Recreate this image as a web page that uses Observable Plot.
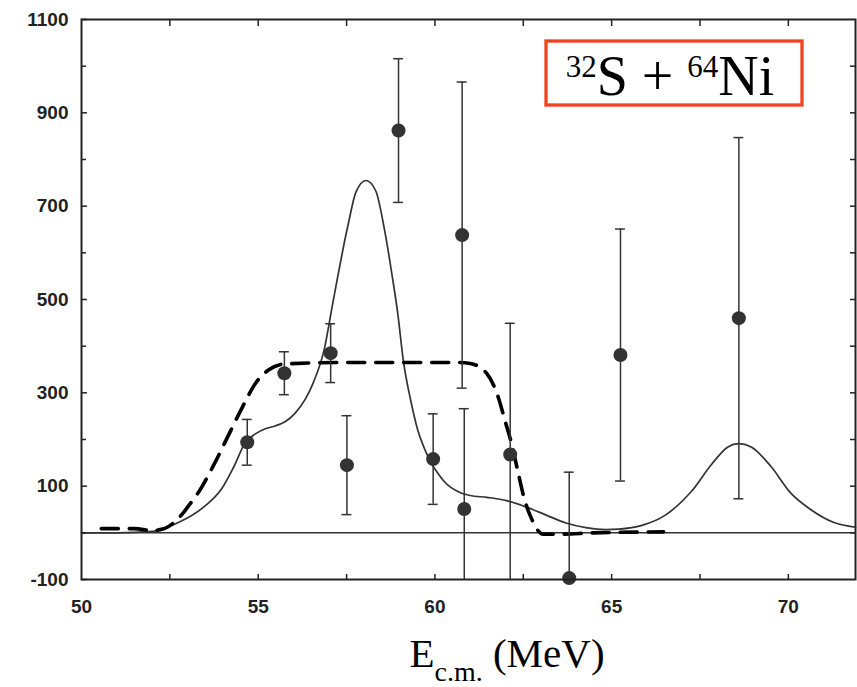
<!DOCTYPE html>
<html><head><meta charset="utf-8">
<script src="https://cdn.jsdelivr.net/npm/d3@7"></script>
<script src="https://cdn.jsdelivr.net/npm/@observablehq/plot@0.6"></script>
<style>
body{margin:0;background:#fff;}
#chart{position:relative;width:857px;height:687px;}
</style></head><body><div id="chart"></div>
<script>
// measured points (E c.m. in MeV, value, symmetric error)
const ptX   = [54.69, 55.74, 57.05, 57.51, 58.97, 59.95, 60.77, 60.83, 62.13, 63.80, 65.25, 68.60];
const ptY   = [194, 342, 385, 145, 862, 158, 638, 51, 168, -97, 381, 460];
const ptErr = [49, 46, 63, 106, 154, 97, 328, 215, 281, 227, 270, 387];

// solid theoretical curve
const solidX = [50, 51, 52.02, 52.77, 53.42, 53.98, 54.3, 54.64, 54.92, 55.2, 55.48, 55.76, 56.04, 56.32, 56.56, 56.88, 57.1, 57.54, 57.77, 58.05, 58.33, 58.56, 58.8, 58.94, 59.11, 59.32, 59.5, 59.74, 59.92, 60.11, 60.25, 60.72, 61.0, 61.47, 62.03, 62.59, 63.15, 63.71, 64.27, 64.83, 65.21, 65.86, 66.52, 67.26, 67.83, 68.29, 68.59, 68.95, 69.51, 70.07, 70.63, 71.29, 71.9];
const solidY = [0, 0, 3, 23, 53, 96, 140, 194, 212, 223, 229, 238, 256, 285, 322, 397, 488, 659, 731, 755, 732, 655, 546, 475, 367, 282, 224, 174, 146, 125, 111, 86, 80, 76, 69, 55, 38, 21, 11, 7, 8, 16, 38, 89, 147, 184, 191, 184, 142, 85, 50, 22, 12];

// dashed curve
const dashX = [50.56, 51.5, 52.0, 52.3, 52.58, 52.86, 53.05, 53.33, 53.8, 54.17, 54.55, 54.92, 55.29, 55.76, 57.5, 60.7, 61.0, 61.47, 61.79, 61.98, 62.17, 62.36, 62.54, 62.73, 63.06, 63.52, 64.5, 66.47];
const dashY = [9, 9, 5, 8, 20, 41, 60, 89, 154, 211, 269, 320, 349, 362, 365, 365, 363, 341, 291, 241, 191, 127, 70, 31, -3, -3, 0, 2];

// ticks
const yLabelTicks = [-100, 100, 300, 500, 700, 900, 1100];
const yMinorTicks = [0, 200, 400, 600, 800, 1000];
const yRightTicks = [0, 100, 200, 300, 400, 500, 600, 700, 800, 900, 1000];
const xLabelTicks = [50, 55, 60, 65, 70];
const xAllTicks = [52.5, 55, 57.5, 60, 62.5, 65, 67.5, 70];

const pts = ptX.map((x, i) => ({x, y: ptY[i], lo: ptY[i] - ptErr[i], hi: ptY[i] + ptErr[i]}));
const solid = solidX.map((x, i) => ({x, y: solidY[i]}));
const dashed = dashX.map((x, i) => ({x, y: dashY[i]}));
const capHalf = 0.14;
const ink = "#333";
const blank = () => "";
const plain = d => String(d);

const plot = Plot.plot({
  width: 857, height: 687,
  marginLeft: 81, marginRight: 2, marginTop: 19, marginBottom: 108,
  x: {domain: [50, 71.9], label: null},
  y: {domain: [-100, 1100], label: null},
  style: {fontFamily: "'Liberation Sans', Arial, sans-serif", fontSize: "19px", fontWeight: "bold", color: "#222", background: "#fff"},
  marks: [
    Plot.ruleY([0], {stroke: ink, strokeWidth: 1.5}),
    Plot.line(solid, {x: "x", y: "y", curve: "monotone-x", stroke: ink, strokeWidth: 1.7}),
    Plot.line(dashed, {x: "x", y: "y", curve: "monotone-x", stroke: "#000", strokeWidth: 3.6, strokeDasharray: "17,11"}),
    Plot.ruleX(pts, {x: "x", y1: "lo", y2: "hi", stroke: ink, strokeWidth: 1.5, clip: true}),
    Plot.ruleY(pts, {y: "hi", x1: d => d.x - capHalf, x2: d => d.x + capHalf, stroke: ink, strokeWidth: 1.5}),
    Plot.ruleY(pts.filter(d => d.lo > -100), {y: "lo", x1: d => d.x - capHalf, x2: d => d.x + capHalf, stroke: ink, strokeWidth: 1.5}),
    Plot.dot(pts, {x: "x", y: "y", r: 7, fill: ink, stroke: null}),
    Plot.frame({stroke: "#222", strokeWidth: 2}),
    Plot.axisY(yLabelTicks, {anchor: "left", tickSize: 0, tickPadding: 13, tickFormat: plain, label: null}),
    Plot.axisY(yLabelTicks, {anchor: "left", tickSize: 6, dx: 6, tickFormat: blank, label: null, strokeWidth: 1.5}),
    Plot.axisY(yMinorTicks, {anchor: "left", tickSize: 5, dx: 5, tickFormat: blank, label: null, strokeWidth: 1.5}),
    Plot.axisY(yRightTicks, {anchor: "right", tickSize: 6, dx: -6, tickFormat: blank, label: null, strokeWidth: 1.5}),
    Plot.axisX(xLabelTicks, {anchor: "bottom", tickSize: 0, tickPadding: 20, tickFormat: plain, label: null}),
    Plot.axisX(xAllTicks, {anchor: "bottom", tickSize: 5, dy: -5, tickFormat: blank, label: null, strokeWidth: 1.5}),
    Plot.axisX(xAllTicks, {anchor: "top", tickSize: 6, dy: 6, tickFormat: blank, label: null, strokeWidth: 1.5})
  ]
});

const svg = d3.select(plot);
const serif = "'Liberation Serif', 'Times New Roman', serif";
// reaction label box
const g = svg.append("g");
g.append("rect").attr("x", 546).attr("y", 41).attr("width", 256).attr("height", 64)
  .attr("fill", "#fff").attr("stroke", "#f2431d").attr("stroke-width", 3.3);
const t = g.append("text").attr("x", 670).attr("y", 95).attr("text-anchor", "middle")
  .style("font-family", serif).style("font-weight", "normal").style("font-size", "56px").attr("fill", "#000");
t.append("tspan").style("font-size", "31px").attr("dy", -18).text("32");
t.append("tspan").attr("dy", 18).text("S + ");
t.append("tspan").style("font-size", "31px").attr("dy", -18).text("64");
t.append("tspan").attr("dy", 18).text("Ni");
// x-axis title
const xt = svg.append("text").attr("x", 507).attr("y", 667).attr("text-anchor", "middle")
  .style("font-family", serif).style("font-weight", "normal").style("font-size", "41px").attr("fill", "#000");
xt.append("tspan").text("E");
xt.append("tspan").style("font-size", "28px").attr("dy", 14).text("c.m.");
xt.append("tspan").attr("dy", -14).text(" (MeV)");

document.getElementById("chart").appendChild(plot);
</script>
</body></html>
